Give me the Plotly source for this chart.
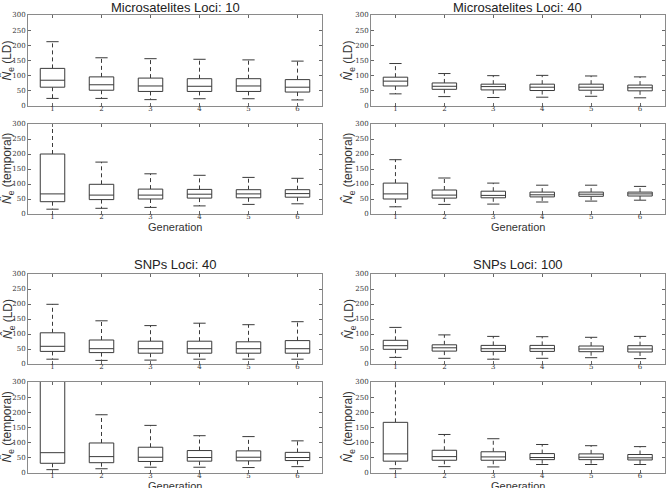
import plotly.graph_objects as go

generations = [1, 2, 3, 4, 5, 6]

# Each panel: upper whisker, Q3, median, Q1, lower whisker per generation
ms10_ld_upper = [212, 159, 156, 154, 152, 148]
ms10_ld_q3 = [124, 96, 92, 90, 90, 87]
ms10_ld_med = [85, 70, 66, 65, 66, 62]
ms10_ld_q1 = [62, 52, 48, 48, 48, 46]
ms10_ld_lower = [25, 25, 21, 24, 24, 20]

ms10_tp_upper = [360, 173, 134, 129, 122, 119]
ms10_tp_q3 = [200, 99, 83, 82, 81, 81]
ms10_tp_med = [67, 63, 63, 66, 67, 68]
ms10_tp_q1 = [41, 48, 50, 53, 54, 56]
ms10_tp_lower = [16, 19, 22, 27, 32, 34]

ms40_ld_upper = [140, 107, 100, 101, 99, 96]
ms40_ld_q3 = [95, 76, 72, 72, 72, 69]
ms40_ld_med = [82, 65, 64, 62, 62, 60]
ms40_ld_q1 = [66, 55, 53, 51, 52, 50]
ms40_ld_lower = [40, 31, 28, 29, 32, 27]

ms40_tp_upper = [181, 120, 103, 96, 96, 92]
ms40_tp_q3 = [103, 80, 76, 73, 73, 73]
ms40_tp_med = [67, 63, 62, 64, 66, 67]
ms40_tp_q1 = [50, 53, 54, 57, 59, 60]
ms40_tp_lower = [24, 32, 33, 40, 43, 46]

snp40_ld_upper = [199, 144, 128, 136, 131, 141]
snp40_ld_q3 = [104, 80, 76, 76, 74, 78]
snp40_ld_med = [59, 51, 51, 51, 51, 51]
snp40_ld_q1 = [42, 38, 36, 36, 36, 36]
snp40_ld_lower = [16, 12, 13, 16, 16, 16]

snp40_tp_upper = [600, 192, 157, 123, 120, 106]
snp40_tp_q3 = [330, 99, 85, 74, 73, 68]
snp40_tp_med = [67, 54, 52, 51, 52, 51]
snp40_tp_q1 = [32, 34, 38, 39, 40, 41]
snp40_tp_lower = [11, 14, 19, 19, 18, 21]

snp100_ld_upper = [122, 97, 92, 91, 89, 92]
snp100_ld_q3 = [79, 64, 62, 62, 60, 61]
snp100_ld_med = [61, 54, 51, 51, 50, 50]
snp100_ld_q1 = [49, 43, 42, 42, 41, 40]
snp100_ld_lower = [22, 19, 16, 19, 21, 18]

snp100_tp_upper = [360, 127, 113, 94, 90, 87]
snp100_tp_q3 = [167, 75, 70, 64, 63, 61]
snp100_tp_med = [63, 54, 53, 51, 52, 50]
snp100_tp_q1 = [39, 42, 42, 44, 44, 43]
snp100_tp_lower = [14, 21, 20, 28, 28, 28]

titles = ["Microsatelites Loci: 10", "Microsatelites Loci: 40",
          "SNPs Loci: 40", "SNPs Loci: 100"]
y_ticks = [0, 50, 100, 150, 200, 250, 300]
x_title = "Generation"
y_title_ld = "<i>N&#770;</i><sub>e</sub> (LD)"
y_title_tp = "<i>N&#770;</i><sub>e</sub> (temporal)"

panels = [
    (ms10_ld_upper, ms10_ld_q3, ms10_ld_med, ms10_ld_q1, ms10_ld_lower),
    (ms10_tp_upper, ms10_tp_q3, ms10_tp_med, ms10_tp_q1, ms10_tp_lower),
    (ms40_ld_upper, ms40_ld_q3, ms40_ld_med, ms40_ld_q1, ms40_ld_lower),
    (ms40_tp_upper, ms40_tp_q3, ms40_tp_med, ms40_tp_q1, ms40_tp_lower),
    (snp40_ld_upper, snp40_ld_q3, snp40_ld_med, snp40_ld_q1, snp40_ld_lower),
    (snp40_tp_upper, snp40_tp_q3, snp40_tp_med, snp40_tp_q1, snp40_tp_lower),
    (snp100_ld_upper, snp100_ld_q3, snp100_ld_med, snp100_ld_q1, snp100_ld_lower),
    (snp100_tp_upper, snp100_tp_q3, snp100_tp_med, snp100_tp_q1, snp100_tp_lower),
]

W, H = 666, 488
xdom_left = [28 / W, 322 / W]
xdom_right = [371 / W, 664.5 / W]
ydoms = [
    [1 - 106 / H, 1 - 15 / H],
    [1 - 214 / H, 1 - 124 / H],
    [1 - 364 / H, 1 - 274 / H],
    [1 - 473 / H, 1 - 382 / H],
]
layout_spec = [
    (xdom_left, ydoms[0], False),
    (xdom_left, ydoms[1], True),
    (xdom_right, ydoms[0], False),
    (xdom_right, ydoms[1], True),
    (xdom_left, ydoms[2], False),
    (xdom_left, ydoms[3], True),
    (xdom_right, ydoms[2], False),
    (xdom_right, ydoms[3], True),
]

BOX_HALF = 0.25
CAP_HALF = 0.125
LINE = "#3a3a3a"
FRAME = "#8a8a8a"

fig = go.Figure()
layout = dict(
    width=W, height=H, margin=dict(l=0, r=0, t=0, b=0, autoexpand=False),
    paper_bgcolor="white", plot_bgcolor="white", showlegend=False,
)

tick_font = dict(family="DejaVu Serif", size=7, color="#333")
annotations = []
for i, (data, (xd, yd, temporal)) in enumerate(zip(panels, layout_spec)):
    up, q3, med, q1, lo = data
    n = i + 1
    xa = "x" if n == 1 else f"x{n}"
    ya = "y" if n == 1 else f"y{n}"

    bx, by, mx, my, wx, wy, cx, cy = [], [], [], [], [], [], [], []
    for g, u, a, m, b, l in zip(generations, up, q3, med, q1, lo):
        bx += [g - BOX_HALF, g + BOX_HALF, g + BOX_HALF, g - BOX_HALF, g - BOX_HALF, None]
        by += [b, b, a, a, b, None]
        mx += [g - BOX_HALF, g + BOX_HALF, None]
        my += [m, m, None]
        wx += [g, g, None, g, g, None]
        wy += [a, u, None, b, l, None]
        cx += [g - CAP_HALF, g + CAP_HALF, None, g - CAP_HALF, g + CAP_HALF, None]
        cy += [u, u, None, l, l, None]

    fig.add_trace(go.Scatter(x=wx, y=wy, mode="lines", xaxis=xa, yaxis=ya,
                             line=dict(color=LINE, width=1, dash="4px,3px"), hoverinfo="skip"))
    fig.add_trace(go.Scatter(x=cx, y=cy, mode="lines", xaxis=xa, yaxis=ya,
                             line=dict(color=LINE, width=1), hoverinfo="skip"))
    fig.add_trace(go.Scatter(x=bx, y=by, mode="lines", xaxis=xa, yaxis=ya,
                             fill="toself", fillcolor="white",
                             line=dict(color=LINE, width=1), hoverinfo="skip"))
    fig.add_trace(go.Scatter(x=mx, y=my, mode="lines", xaxis=xa, yaxis=ya,
                             line=dict(color=LINE, width=1), hoverinfo="skip"))

    xkey = "xaxis" if n == 1 else f"xaxis{n}"
    ykey = "yaxis" if n == 1 else f"yaxis{n}"
    layout[xkey] = dict(
        domain=xd, anchor=ya, range=[0.5, 6.5], tickvals=generations,
        ticktext=[str(g) for g in generations], automargin=False,
        ticks="inside", ticklen=3, tickcolor="#666", mirror="allticks",
        showline=True, linecolor=FRAME, linewidth=1, showgrid=False, zeroline=False,
        tickfont=tick_font, fixedrange=True, ticklabelstandoff=-4,
    )
    layout[ykey] = dict(
        domain=yd, anchor=xa, range=[0, 300], tickvals=y_ticks, automargin=False,
        ticks="inside", ticklen=3, tickcolor="#666", mirror="allticks",
        showline=True, linecolor=FRAME, linewidth=1, showgrid=False, zeroline=False,
        tickfont=tick_font, fixedrange=True,
    )

    ytx = (8 if xd is xdom_left else 349) / W
    annotations.append(dict(
        text=y_title_tp if temporal else y_title_ld,
        x=ytx, y=(yd[0] + yd[1]) / 2, xref="paper", yref="paper",
        xanchor="center", yanchor="middle", textangle=-90, showarrow=False,
        font=dict(family="Liberation Sans", size=12, color="#333")))
    if temporal:
        annotations.append(dict(
            text=x_title, x=(xd[0] + xd[1]) / 2, y=yd[0], xref="paper", yref="paper",
            xanchor="center", yanchor="middle", yshift=-13 if yd is ydoms[1] else -12.5,
            showarrow=False, font=dict(family="Liberation Sans", size=11, color="#333")))

title_pos = [
    ((xdom_left[0] + xdom_left[1]) / 2, 1 - 7 / H),
    ((xdom_right[0] + xdom_right[1]) / 2, 1 - 7 / H),
    ((xdom_left[0] + xdom_left[1]) / 2, 1 - 264 / H),
    ((xdom_right[0] + xdom_right[1]) / 2, 1 - 264 / H),
]
for t, (px, py) in zip(titles, title_pos):
    annotations.append(dict(text=t, x=px, y=py, xref="paper", yref="paper",
                            xanchor="center", yanchor="middle", showarrow=False,
                            font=dict(family="Liberation Sans", size=13, color="#222")))
layout["annotations"] = annotations

fig.update_layout(**layout)
fig.write_html("out.html", config={"displayModeBar": False},
               post_script="document.body.style.margin='0';")
